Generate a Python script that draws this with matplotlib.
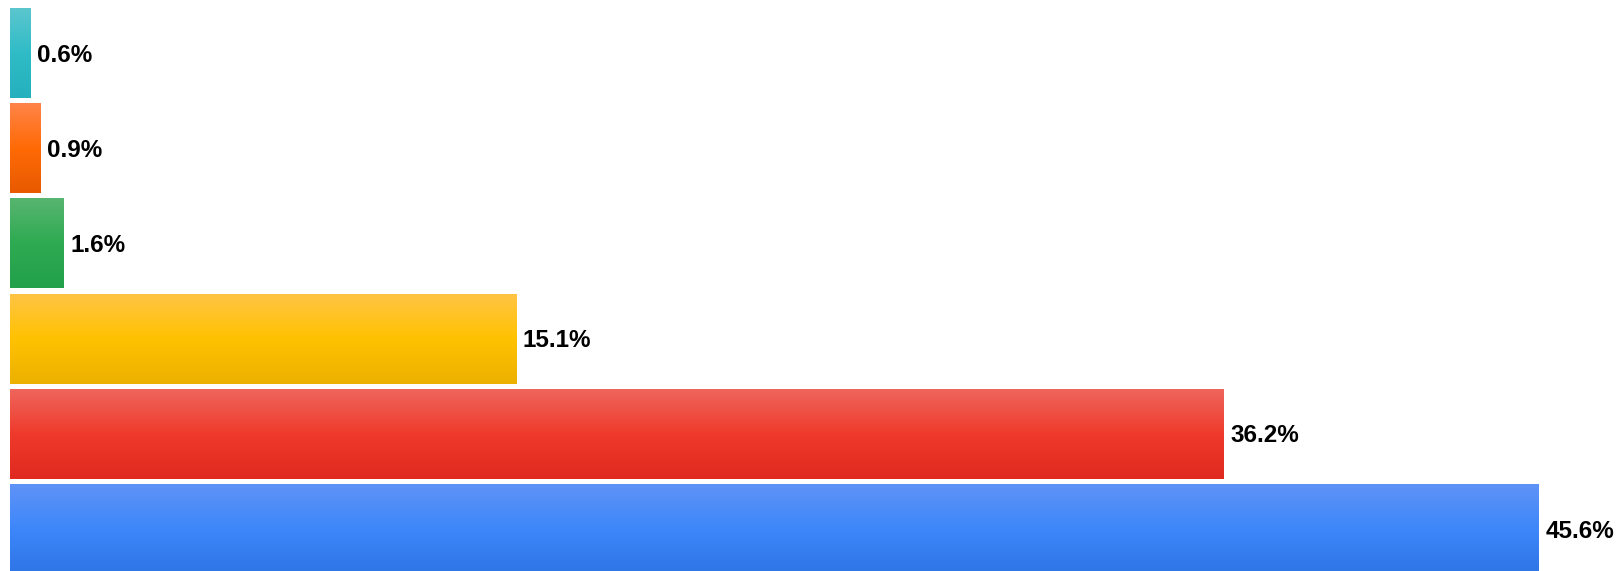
import matplotlib
matplotlib.use("Agg")
import matplotlib.pyplot as plt
import numpy as np
from matplotlib.colors import LinearSegmentedColormap

# shares, top bar first
values = [0.6, 0.9, 1.6, 15.1, 36.2, 45.6]
labels = ["0.6%", "0.9%", "1.6%", "15.1%", "36.2%", "45.6%"]

# gradient stops for each bar: top, middle, bottom
top_colors = ["#5cc6ce", "#ff8448", "#58b56f", "#ffc445", "#ef665c", "#5f93f6"]
mid_colors = ["#2fbcc7", "#ff6a05", "#2eaa52", "#ffc200", "#ee3a2c", "#3d87fa"]
bottom_colors = ["#24b0bc", "#e85a00", "#22a04a", "#ecb000", "#e0291f", "#2e75e6"]


def gradient_bar(ax, rect, top, mid, bottom):
    """
    Paint a vertical gradient inside a bar rectangle
    """
    cmap = LinearSegmentedColormap.from_list("g", [top, mid, bottom])
    grad = np.linspace(0, 1, 256).reshape(-1, 1)
    x0 = rect.get_x()
    x1 = x0 + rect.get_width()
    y0 = rect.get_y()
    y1 = y0 + rect.get_height()
    # y axis is inverted, so y0 is the visual top
    ax.imshow(grad, cmap=cmap, aspect="auto", origin="upper",
              extent=(x0, x1, y1, y0), interpolation="bicubic", zorder=2)


def main():
    fig = plt.figure(figsize=(16.2, 5.71), dpi=100)
    ax = fig.add_axes([0, 0, 1, 1])

    pos = np.arange(len(values))
    bars = ax.barh(pos, values, height=0.945, color="none",
                   edgecolor="none")
    for rect, t, m, b in zip(bars, top_colors, mid_colors, bottom_colors):
        gradient_bar(ax, rect, t, m, b)

    for y, v, lab in zip(pos, values, labels):
        ax.annotate(lab, (v, y), xytext=(5, -1.5), textcoords="offset points",
                    va="center", ha="left", fontsize=17.5, fontweight="bold",
                    family="Liberation Sans", color="#000000")

    ax.set_xlim(-0.298, 48.04)
    ax.set_ylim(5.441, -0.557)
    ax.axis("off")
    fig.savefig("out.png", dpi=100, facecolor="white")


if __name__ == "__main__":
    main()
